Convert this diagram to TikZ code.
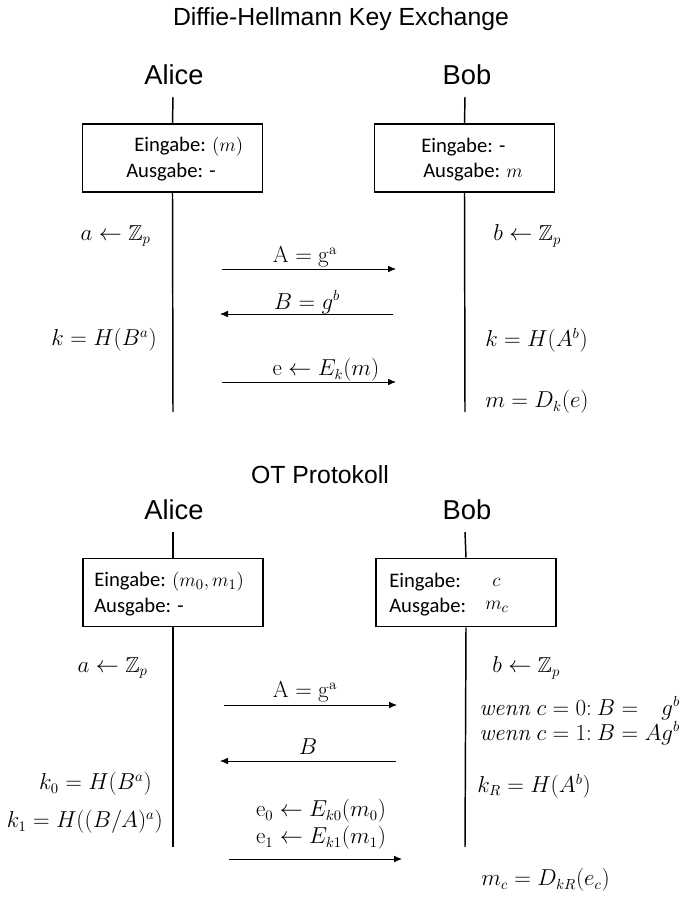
\documentclass[tikz,border=0pt]{standalone}
\usepackage{amsmath}
\usepackage{amssymb}
\usepackage[no-math]{fontspec}
\setmainfont{Carlito}
\newfontfamily\arialfont{Liberation Sans}
\usetikzlibrary{positioning, arrows.meta}

\begin{document}
\begin{tikzpicture}[x=0.75pt, y=-0.75pt,
    font=\fontsize{16.2}{19}\selectfont, inner sep=0pt,
    heading/.style={font=\arialfont\fontsize{18.6}{22}\selectfont},
    party/.style={font=\arialfont\fontsize{20.5}{24}\selectfont},
    iobox/.style={draw, line width=1.2pt, minimum width=135pt, minimum height=51pt},
    boxtxt/.style={anchor=west, font=\fontsize{15.5}{18}\selectfont},
    life/.style={line width=1.1pt},
    msg/.style={line width=0.6pt, -{Latex[length=6pt, width=5pt]}}]
    \useasboundingbox (0,0) rectangle (681,899);

    % Diffie-Hellmann
    \node[heading] (dhTitle) at (341,19) {Diffie-Hellmann Key Exchange};
    \node[party] (dhAlice) at (174,75) {Alice};
    \node[party] (dhBob) at (467,75) {Bob};
    \node[iobox] (dhAbox) at (172.5,158) {};
    \node[iobox] (dhBbox) at (464.5,158) {};
    \coordinate (dhAtop) at (173,97);
    \coordinate (dhAend) at (173,412);
    \coordinate (dhBtop) at (465,97);
    \coordinate (dhBend) at (465,412);
    \draw[life] (dhAtop) -- (dhAbox.north);
    \draw[life] (dhAbox.south) -- (dhAend);
    \draw[life] (dhBtop) -- (dhBbox.north);
    \draw[life] (dhBbox.south) -- (dhBend);
    \node[boxtxt] (dhAin) at (134,147) {Eingabe: $(m)$};
    \node[boxtxt] (dhAout) at (126,172) {Ausgabe: -};
    \node[boxtxt] (dhBin) at (421,147) {Eingabe: -};
    \node[boxtxt] (dhBout) at (423,172) {Ausgabe: $m$};

    \node[anchor=east] (dhAsec) at (151,236) {$a \leftarrow \mathbb{Z}_p$};
    \node[anchor=west] (dhBsec) at (493,236) {$b \leftarrow \mathbb{Z}_p$};
    \node[anchor=east] (dhAkey) at (157,340) {$k = H(B^a)$};
    \node[anchor=west] (dhBkey) at (485,340) {$k = H(A^b)$};
    \node[anchor=west] (dhBdec) at (485,402) {$m = D_k(e)$};

    \coordinate (dhM1s) at (222,269);
    \coordinate (dhM1e) at (396,269);
    \coordinate (dhM2s) at (393,314);
    \coordinate (dhM2e) at (220,314);
    \coordinate (dhM3s) at (222,382);
    \coordinate (dhM3e) at (396,382);
    \draw[msg] (dhM1s) -- (dhM1e);
    \draw[msg] (dhM2s) -- (dhM2e);
    \draw[msg] (dhM3s) -- (dhM3e);
    \node (dhM1lbl) at (305,257) {$\mathrm{A} = \mathrm{g}^{\mathrm{a}}$};
    \node (dhM2lbl) at (307,302) {$B = g^b$};
    \node (dhM3lbl) at (326,370) {$\mathrm{e} \leftarrow E_k(m)$};

    % OT
    \node[heading] (otTitle) at (320,475) {OT Protokoll};
    \node[party] (otAlice) at (174,510) {Alice};
    \node[party] (otBob) at (467,510) {Bob};
    \node[iobox] (otAbox) at (173,592.5) {};
    \node[iobox] (otBbox) at (466,592.5) {};
    \coordinate (otAtop) at (173,532);
    \coordinate (otAend) at (173,847);
    \coordinate (otBtop) at (465,532);
    \coordinate (otBend) at (465,847);
    \draw[life] (otAtop) -- (otAbox.north);
    \draw[life] (otAbox.south) -- (otAend);
    \draw[life] (otBtop) -- (otBbox.north);
    \draw[life] (otBbox.south) -- (otBend);
    \node[boxtxt] (otAin) at (94,582) {Eingabe: $(m_0, m_1)$};
    \node[boxtxt] (otAout) at (94,607) {Ausgabe: -};
    \node[boxtxt] (otBin) at (389,582) {Eingabe:};
    \node[boxtxt] (otBout) at (389,607) {Ausgabe:};
    \node[boxtxt] (otBc) at (492,582) {$c$};
    \node[boxtxt] (otBmc) at (485,607) {$m_c$};

    \node[anchor=east] (otAsec) at (148,668) {$a \leftarrow \mathbb{Z}_p$};
    \node[anchor=west] (otBsec) at (492,668) {$b \leftarrow \mathbb{Z}_p$};
    \node[anchor=west] (otBif0) at (479,708) {$\mathit{wenn}\ c = 0{:}\ B = \phantom{A}g^b$};
    \node[anchor=west] (otBif1) at (479,733) {$\mathit{wenn}\ c = 1{:}\ B = Ag^b$};
    \node[anchor=east] (otAkey0) at (152,784) {$k_0 = H(B^a)$};
    \node[anchor=east] (otAkey1) at (163,822) {$k_1 = H((B/A)^a)$};
    \node[anchor=west] (otBkey) at (477,786) {$k_R = H(A^b)$};
    \node[anchor=west] (otBdec) at (481,880) {$m_c = D_{kR}(e_c)$};

    \coordinate (otM1s) at (224,705);
    \coordinate (otM1e) at (397,705);
    \coordinate (otM2s) at (396,761);
    \coordinate (otM2e) at (220,761);
    \coordinate (otM3s) at (229,859);
    \coordinate (otM3e) at (402,859);
    \draw[msg] (otM1s) -- (otM1e);
    \draw[msg] (otM2s) -- (otM2e);
    \draw[msg] (otM3s) -- (otM3e);
    \node (otM1lbl) at (305,692) {$\mathrm{A} = \mathrm{g}^{\mathrm{a}}$};
    \node (otM2lbl) at (308,747) {$B$};
    \node (otM3lbl0) at (321,811) {$\mathrm{e}_0 \leftarrow E_{k0}(m_0)$};
    \node (otM3lbl1) at (321,838) {$\mathrm{e}_1 \leftarrow E_{k1}(m_1)$};
\end{tikzpicture}
\end{document}
